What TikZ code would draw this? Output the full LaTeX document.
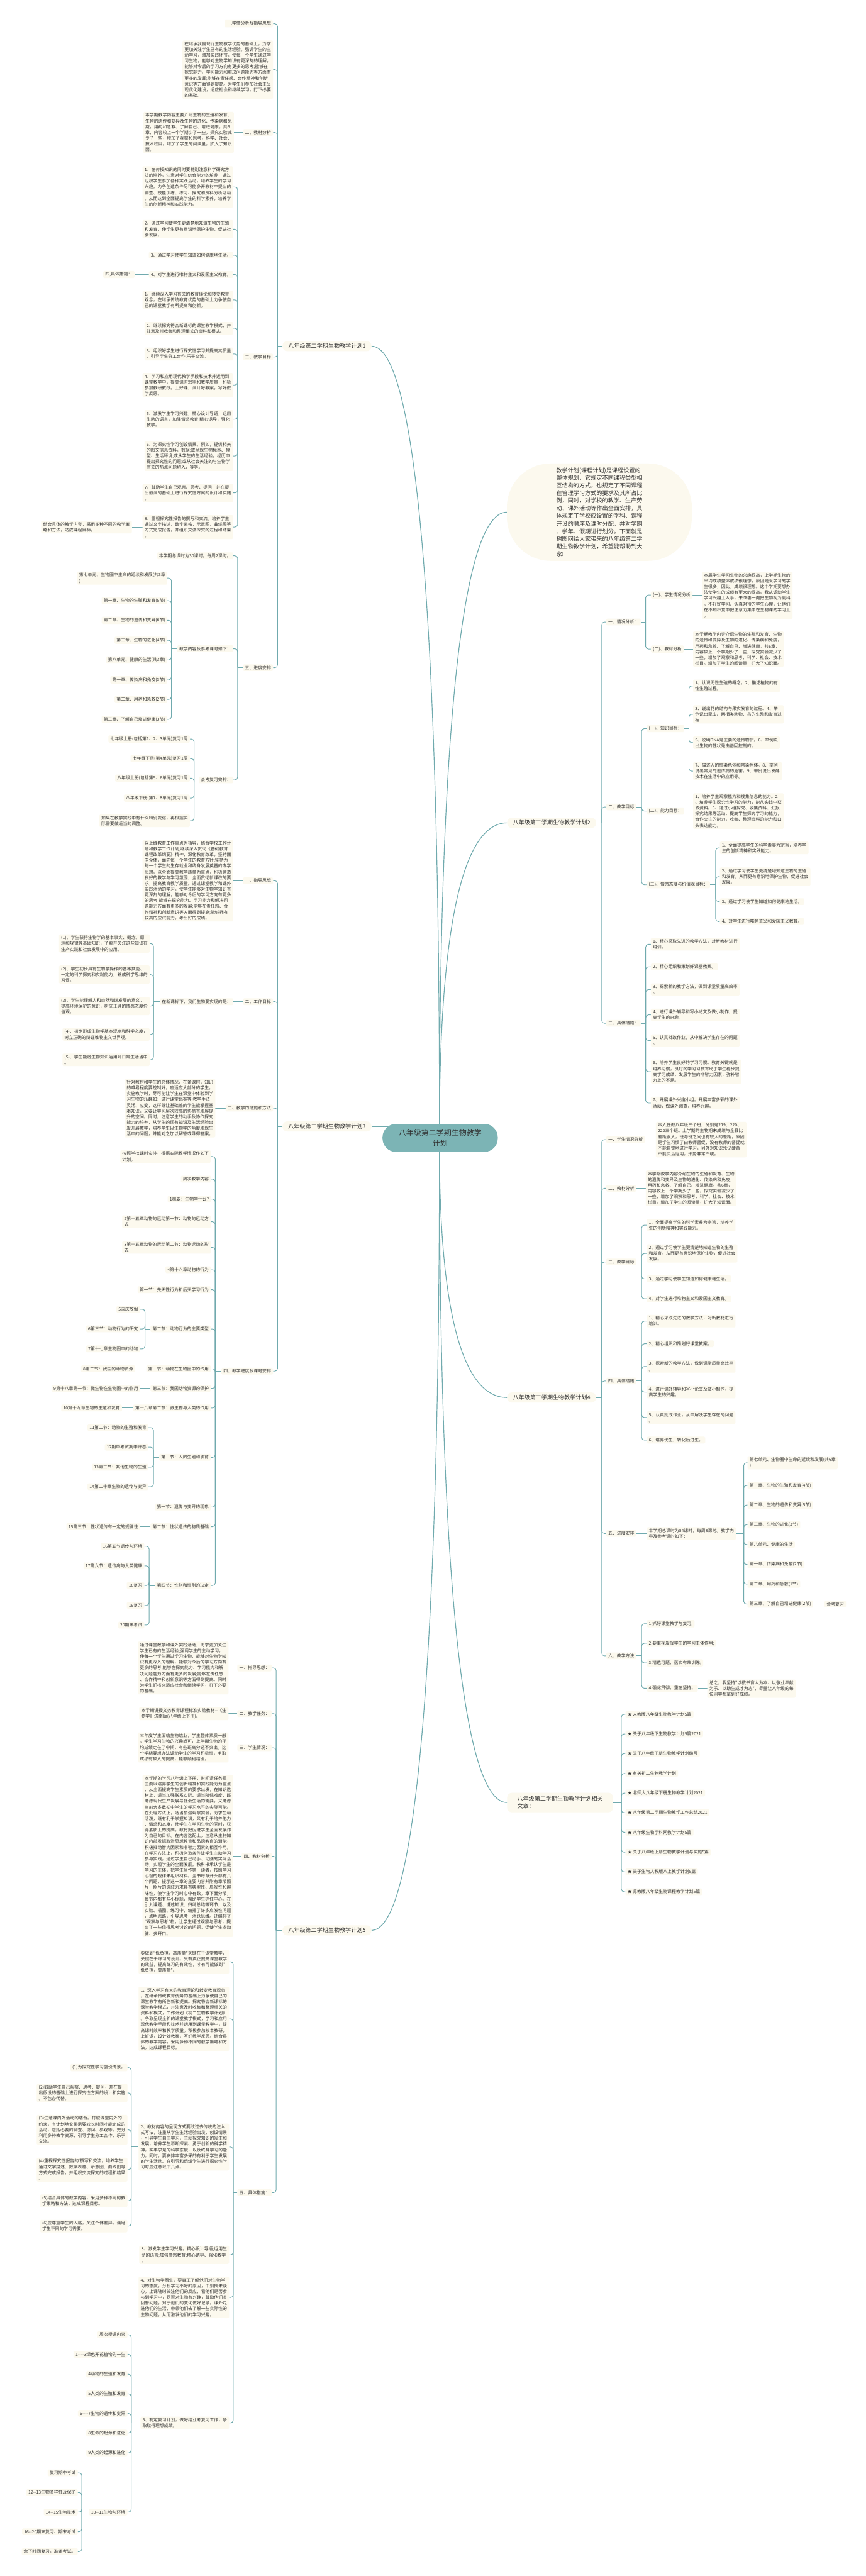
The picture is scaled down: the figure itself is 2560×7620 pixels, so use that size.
\documentclass[tikz,border=0pt]{standalone}
\usepackage{fontspec}
\newfontfamily\cjk{Noto Sans CJK SC}
\usetikzlibrary{backgrounds}
\pgfdeclarelayer{bottom}
\pgfsetlayers{bottom,background,main}
\definecolor{cream}{RGB}{252,249,238}
\definecolor{lc}{RGB}{112,170,174}
\definecolor{ctrfill}{RGB}{124,180,181}
\definecolor{txt}{RGB}{48,48,48}
\tikzset{
 box/.style={font=\cjk\fontsize{12.8}{17}\selectfont, text=txt, fill=cream, rounded corners=3, inner xsep=6, inner ysep=4, align=left},
 L/.style={box, anchor=east},
 R/.style={box, anchor=west},
 major/.style={font=\cjk\fontsize{16.9}{22}\selectfont, text=txt, fill=cream, rounded corners=14, inner xsep=17, inner ysep=7, align=left},
 conn/.style={draw=lc, line width=1.8, rounded corners=8},
 curve/.style={draw=lc, line width=2.2},
}
\newcommand{\Lk}[3]{\draw[conn] (#1.west) -- (#1.west -| #2);
 \foreach \kid in {#3}{\draw[conn] (#1.west -| #2) |- (\kid.east);}}
\newcommand{\Rk}[3]{\draw[conn] (#1.east) -- (#1.east -| #2);
 \foreach \kid in {#3}{\draw[conn] (#1.east -| #2) |- (\kid.west);}}
\newcommand{\Ld}[2]{\draw[conn] (#1.west) -- (#1.west -| #2.east);}
\newcommand{\Rd}[2]{\draw[conn] (#1.east) -- (#1.east -| #2.west);}
\begin{document}
\begin{tikzpicture}[x=1pt,y=-1pt]
\begin{pgfonlayer}{bottom}\fill[white] (0,0) rectangle (2560,7620);\end{pgfonlayer}
\useasboundingbox (0,0) rectangle (2560,7620);

% ===== center =====
\node[fill=ctrfill, rounded corners=40, minimum width=341, minimum height=83, font=\cjk\fontsize{22.3}{32}\selectfont, text=txt, align=center] (ctr) at (1302,3366) {八年级第二学期生物教学\\计划};

% ===== plan 1 =====
\node[major,anchor=east] (p1) at (1099,1024) {八年级第二学期生物教学计划1};
\coordinate (s1) at (821,0);
\node[L] (a1) at (808,70) {一,学情分析及指导思想};
\node[L] (a2) at (808,206) {在继承我国现行生物教学优势的基础上，力求\\更加关注学生已有的生活经验。强调学生的主\\动学习，增加实践环节，使每一个学生通过学\\习生物，能够对生物学知识有更深刻的理解，\\能够对今后的学习方向有更多的思考;能够在\\探究能力、学习能力和解决问题能力等方面有\\更多的发展;能够在责任感、合作精神和创新\\意识等方面得到提高。为学生们参加社会主义\\现代化建设，适应社会和继续学习，打下必要\\的基础。};
\node[L] (a3) at (808,392) {二、教材分析};
\node[L] (a3a) at (692,392) {本学期教学内容主要介绍生物的生殖和发育、\\生物的遗传和变异及生物的进化、传染病和免\\疫，用药和急救、了解自己、增进健康。共6\\章，内容较上一个学期少了一些，探究实验减\\少了一些，增加了观察和思考，科学、社会、\\技术栏目。增加了学生的阅读量，扩大了知识\\面。};
\node[L] (a4) at (808,1056) {三、教学目标};
\coordinate (s1d) at (703,0);
\node[L] (d1) at (690,553) {1、在传授知识的同时要特别注意科学研究方\\法的培养，注意对学生综合能力的培养，通过\\组织学生参加各种实践活动，培养学生的学习\\兴趣。力争创造条件尽可能多开教材中提出的\\调查、技能训练、练习、探究和资料分析活动\\。从而达到全面提高学生的科学素养，培养学\\生的创新精神和实践能力。};
\node[L] (d2) at (690,678) {2、通过学习使学生更清楚地知道生物的生殖\\和发育，使学生更有意识地保护生物，促进社\\会发展。};
\node[L] (d3) at (690,755) {3、通过学习使学生知道如何健康地生活。};
\node[L] (d4) at (690,812) {4、对学生进行唯物主义和爱国主义教育。};
\node[L] (d4a) at (398,812) {四,具体措施：};
\node[L] (d5) at (690,887) {1、继续深入学习有关的教育理论和转变教育\\观念，在继承传统教育优势的基础上力争使自\\己的课堂教学有所提高和创新。};
\node[L] (d6) at (690,971) {2、继续探究符合新课标的课堂教学模式，并\\注意及时收集和整理相关的资料和模式。};
\node[L] (d7) at (690,1047) {3、组织好学生进行探究性学习并提高其质量\\，引导学生分工合作,乐于交流。};
\node[L] (d8) at (690,1139) {4、学习和应用现代教学手段和技术并运用到\\课堂教学中，提高课时效率和教学质量，积极\\参加教研教改。上好课，设计好教案，写好教\\学反思。};
\node[L] (d9) at (690,1240) {5、激发学生学习兴趣，精心设计导语，运用\\生动的语言，加强情感教育;精心诱导，强化\\教学。};
\node[L] (d10) at (690,1349) {6、为探究性学习创设情景。例如，提供相关\\的图文信息资料，数据;或呈现生物标本、模\\型、生活环境;或从学生的生活经验，经历中\\提出探究性的问题;或从社会关注的与生物学\\有关的热点问题切入，等等。};
\node[L] (d11) at (690,1458) {7、鼓励学生自己观察、思考、提问，并在提\\出假设的基础上进行探究性方案的设计和实施\\。};
\node[L] (d12) at (690,1559) {8、重视探究性报告的撰写和交流。培养学生\\通过文字描述，数字表格，示意图，曲线图等\\方式完成报告，并组织交流探究的过程和结果\\。};
\node[L] (d12a) at (390,1559) {结合具体的教学内容，采用多种不同的教学策\\略和方法，达成课程目标。};
\node[L] (a5) at (808,1975) {五、进度安排};
\node[L] (e1) at (690,1644) {本学期总课时为30课时，每周2课时。};
\node[L] (e2) at (690,1919) {教学内容及参考课时如下：};
\coordinate (s1e) at (507,0);
\node[L] (f1) at (495,1710) {第七单元、生物圈中生命的延续和发展(共3章\\)};
\node[L] (f2) at (495,1777) {第一章、生物的生殖和发育(5节)};
\node[L] (f3) at (495,1835) {第二章、生物的遗传和变异(6节)};
\node[L] (f4) at (495,1894) {第三章、生物的进化(4节)};
\node[L] (f5) at (495,1952) {第八单元、健康的生活(共3章)};
\node[L] (f6) at (495,2011) {第一章、传染病和免疫(3节)};
\node[L] (f7) at (495,2069) {第二章、用药和急救(2节)};
\node[L] (f8) at (495,2128) {第三章、了解自己增进健康(3节)};
\node[L] (e3) at (690,2307) {会考复习安排：};
\coordinate (s1g) at (574,0);
\node[L] (g1) at (562,2186) {七年级上册(包括第1、2、3单元)复习1周};
\node[L] (g2) at (562,2244) {七年级下册(第4单元)复习1周};
\node[L] (g3) at (562,2302) {八年级上册(包括第5、6单元)复习1周};
\node[L] (g4) at (562,2361) {八年级下册(第7、8单元)复习1周};
\node[L] (g5) at (562,2428) {如果在教学实践中有什么特别变化，再根据实\\际需要做适当的调整。};

% ===== plan 3 =====
\node[major,anchor=east] (p3) at (1099,3332) {八年级第二学期生物教学计划3};
\coordinate (s3) at (821,0);
\node[L] (h1) at (808,2605) {一、指导思想};
\node[L] (h1a) at (690,2605) {以上级教育工作重点为指导，结合学校工作计\\划和教学工作计划,继续深入贯彻《基础教育\\课程改革纲要》精神，深化教育改革，坚持面\\向全体，面向每一个学生的教育方针;坚持为\\每一个学生的生存就业和终身发展奠基的办学\\思想。以全面提高教学质量为重点，积极营造\\良好的教学与学习氛围，全面贯彻新课改的要\\求，提高教育教学质量。通过课堂教学和课外\\实践活动的学习，使学生能够对生物学知识有\\更深刻的理解，能够对今后的学习方向有更多\\的思考;能够在探究能力、学习能力和解决问\\题能力方面有更多的发展;能够在责任感、合\\作精神和创新意识等方面得到提高;能够拥有\\较高的应试能力，考出好的成绩。};
\node[L] (h2) at (808,2963) {二、工作目标};
\node[L] (h2a) at (690,2963) {在新课标下，我们生物要实现的是：};
\coordinate (s3i) at (454,0);
\node[L] (i1) at (443,2791) {(1)、学生获得生物学的基本事实、概念、原\\理和规律等基础知识，了解并关注这些知识在\\生产实践和社会发展中的应用。};
\node[L] (i2) at (443,2883) {(2)、学生初步具有生物学操作的基本技能、\\一定的科学探究和实践能力，养成科学思维的\\习惯。};
\node[L] (i3) at (443,2976) {(3)、学生能理解人和自然和谐发展的意义，\\提高环境保护的意识，树立正确的情感态度价\\值观。};
\node[L] (i4) at (443,3060) {(4)、初步形成生物学基本观点和科学态度，\\树立正确的辩证唯物主义世界观。};
\node[L] (i5) at (443,3135) {(5)、学生能将生物知识运用到日常生活当中\\。};
\node[L] (h3) at (808,3278) {三、教学的措施和方法};
\node[L] (h3a) at (637,3278) {针对教材和学生的总体情况，在备课时，知识\\的难易程度要控制好，应适应大部分的学生。\\实施教学时，尽可能让学生在课堂中体验到学\\习生物的乐趣如：进行课堂比赛等;教学手法\\灵活、应变，这样既让基础差的学生能掌握基\\本知识，又要让学习层次较高的协商有发展提\\升的空间。同时，注意学生的动手及协作探究\\能力的培养，从学生的现有知识及生活经验出\\发开展教学，培养学生以生物学的角度发现生\\活中的问题，并能对之加以解答或寻得答案。};
\node[L] (h4) at (808,4056) {四、教学进度及课时安排};
\coordinate (s3j) at (637,0);
\node[L] (j1) at (624,3421) {按照学校课时安排，根据实际教学情况作如下\\计划。};
\node[L] (j2) at (624,3488) {周次教学内容};
\node[L] (j3) at (624,3547) {1概要：生物学什么?};
\node[L] (j4) at (624,3614) {2第十五章动物的运动第一节：动物的运动方\\式};
\node[L] (j5) at (624,3690) {3第十五章动物的运动第二节：动物运动的形\\式};
\node[L] (j6) at (624,3756) {4第十六章动物的行为};
\node[L] (j7) at (624,3815) {第一节：先天性行为和后天学习行为};
\node[L] (j8) at (624,3931) {第二节：动物行为的主要类型};
\coordinate (s3k) at (429,0);
\node[L] (k1) at (415,3873) {5国庆放假};
\node[L] (k2) at (415,3931) {6第三节：动物行为的研究};
\node[L] (k3) at (415,3990) {7第十七章生物圈中的动物};
\node[L] (j9) at (624,4049) {第一节：动物在生物圈中的作用};
\node[L] (k4) at (400,4049) {8第二节：我国的动物资源};
\node[L] (j10) at (624,4107) {第三节：我国动物资源的保护};
\node[L] (k5) at (415,4107) {9第十八章第一节：微生物在生物圈中的作用};
\node[L] (j11) at (624,4165) {第十八章第二节：微生物与人类的作用};
\node[L] (k6) at (361,4165) {10第十九章生物的生殖和发育};
\node[L] (j12) at (624,4311) {第一节：人的生殖和发育};
\coordinate (s3l) at (454,0);
\node[L] (k7) at (439,4223) {11第二节：动物的生殖和发育};
\node[L] (k8) at (439,4281) {12期中考试期中评卷};
\node[L] (k9) at (439,4340) {13第三节：其他生物的生殖};
\node[L] (k10) at (439,4398) {14第二十章生物的遗传与变异};
\node[L] (j13) at (624,4458) {第一节：遗传与变异的现象};
\node[L] (j14) at (624,4516) {第二节：性状遗传的物质基础};
\node[L] (k11) at (415,4516) {15第三节：性状遗传有一定的规律性};
\node[L] (j15) at (624,4690) {第四节：性别和性别的决定};
\coordinate (s3m) at (441,0);
\node[L] (k12) at (427,4574) {16第五节遗传与环境};
\node[L] (k13) at (427,4632) {17第六节：遗传病与人类健康};
\node[L] (k14) at (427,4690) {18复习};
\node[L] (k15) at (427,4749) {19复习};
\node[L] (k16) at (427,4807) {20期末考试};

% ===== plan 5 =====
\node[major,anchor=east] (p5) at (1099,5710) {八年级第二学期生物教学计划5};
\coordinate (s5) at (817,0);
\node[L] (m1) at (804,4934) {一、指导思想：};
\node[L] (m1a) at (676,4934) {通过课堂教学和课外实践活动，力求更加关注\\学生已有的生活经验;强调学生的主动学习，\\使每一个学生通过学习生物，能够对生物学知\\识有更深入的理解，能够对今后的学习方向有\\更多的思考;能够在探究能力、学习能力和解\\决问题能力方面有更多的发展;能够在责任感\\、合作精神和创新意识等方面得到提高。同时\\为学生们将来适应社会和继续学习，打下必要\\的基础。};
\node[L] (m2) at (804,5069) {二、教学任务：};
\node[L] (m2a) at (676,5069) {本学期讲授义务教育课程标准实验教材--《生\\物学》济南版(八年级上下册)。};
\node[L] (m3) at (804,5170) {三、学生情况：};
\node[L] (m3a) at (676,5169) {本年度学生面临生物结业，学生整体素质一般\\，学生学习生物的兴趣尚可，上学期生物的平\\均成绩走在了中间，有些班高分还不突出。这\\个学期要想办法调动学生的学习积极性，争取\\成绩有较大的提高，能够顺利结业。};
\node[L] (m4) at (804,5491) {四、教材分析};
\node[L] (m4a) at (690,5490) {本学期的学习八年级上下册，时间紧任务重，\\主要以培养学生的创新精神和实践能力为重点\\，从全面提高学生素质的要求出发，在知识选\\材上，适当加强联系实际、适当降低难度，既\\考虑现代生产发展与社会生活的需要，又考虑\\当前大多数初中学生的学习水平的实际可能。\\在处理方法上，适当加强观察实验，力求生动\\活泼，既有利于掌握知识，又有利于培养能力\\、情感和态度，使学生在学习生物的同时，获\\得素质上的提高。教材把促进学生全面发展作\\为自己的目标。在内容选配上，注意从生物知\\识内部发掘政治思想教育和品德教育的潜能，\\积极推动智力因素和非智力因素的相互作用。\\在学习方法上，积极创造条件让学生主动学习\\参与实践，通过学生自己动手、动脑的实际活\\动，实现学生的全面发展。教科书承认学生是\\学习的主体，把学生当作第一读者，按照学习\\心理的规律来组织材料。全书每章开头都有几\\个问题，提示这一章的主要内容并附有章节照\\片，照片的选取力求具有典型性、启发性和趣\\味性，使学生学习时心中有数。章下面分节，\\每节内都有些小标题，帮助学生抓住中心。在\\引入课题、讲述知识、归纳总结等环节，以及\\实验、插图、练习中，编排了许多启发性问题\\，点明思路，引导思考，活跃思维。还编排了\\"观察与思考"栏，让学生通过观察与思考，提\\出了一些值得思考讨论的问题，促使学生多动\\脑、多开口。};
\node[L] (m5) at (804,6486) {五、具体措施：};
\coordinate (s5q) at (690,0);
\node[L] (q1) at (678,5803) {要做到"低负担，高质量"关键在于课堂教学，\\关键在于练习的设计。只有真正提高课堂教学\\的效益，提高练习的有效性，才有可能做到"\\低负担，高质量"。};
\node[L] (q2) at (678,5972) {1、深入学习有关的教育理论和转变教育观念\\，在继承传统教育优势的基础上力争使自己的\\课堂教学有所创新和提高。探究符合新课标的\\课堂教学模式，并注意及时收集和整理相关的\\资料和模式，工作计划《初二生物教学计划》\\。争取呈现全新的课堂教学模式，学习和应用\\现代教学手段和技术并运用到课堂教学中，提\\高课时效率和教学质量。积极参加校本教研，\\上好课，设计好教案，写好教学反思。结合具\\体的教学内容，采用多种不同的教学策略和方\\法，达成课程目标。};
\node[L] (q3) at (678,6351) {2、教材内容的呈现方式要改过去传统的注入\\式写法，注重从学生生活经验出发，创设情景\\，引导学生自主学习，主动探究知识的发生和\\发展，培养学生不断探索、勇于创新的科学精\\神，实事求是的科学态度，以及终身学习的能\\力，同时，要安排丰富多采的有利于学生发展\\的学生活动。在引导和组织学生进行探究性学\\习时应注意以下几点。};
\coordinate (s5r) at (388,0);
\node[L] (r1) at (377,6116) {(1)为探究性学习创设情景。};
\node[L] (r2) at (377,6191) {(2)鼓励学生自己观察、思考、提问，并在提\\出假设的基础上进行探究性方案的设计和实施\\。不包办代替。};
\node[L] (r3) at (377,6300) {(3)注意课内外活动的结合。打破课堂内外的\\约束，有计划地安排需要较长时间才能完成的\\活动，包括必要的调查、访问、参观等，充分\\利用多种教学资源，引导学生分工合作，乐于\\交流。};
\node[L] (r4) at (377,6418) {(4)重视探究性报告的'撰写和交流。培养学生\\通过文字描述、数字表格、示意图、曲线图等\\方式完成报告，并组织交流探究的过程和结果\\。};
\node[L] (r5) at (377,6510) {(5)结合具体的教学内容，采用多种不同的教\\学策略和方法，达成课程目标。};
\node[L] (r6) at (377,6585) {(6)应尊重学生的人格，关注个体差异，满足\\学生不同的学习需要。};
\node[L] (q4) at (678,6670) {3、激发学生学习兴趣。精心设计导语;运用生\\动的语言;加强情感教育;精心诱导、强化教学\\。};
\node[L] (q5) at (678,6796) {4、对生物学困生，要真正了解他们对生物学\\习的态度，分析学习不好的原因，个别找来谈\\心，上课随时关注他们的反应，看他们是否参\\与到学习中，是否对生物有兴趣，鼓励他们多\\回答问题，对于他们的变化做好记录。课外走\\进他们的生活，带领他们去了解一些实际性的\\生物问题，从而激发他们的学习兴趣。};
\node[L] (q6) at (678,7167) {5、制定复习计划，做好结业考复习工作，争\\取取得理想成绩。};
\node[L] (t1) at (377,6906) {周次授课内容};
\node[L] (t2) at (377,6964) {1----3绿色开花植物的一生};
\node[L] (t3) at (377,7023) {4动物的生殖和发育};
\node[L] (t4) at (377,7081) {5人类的生殖和发育};
\node[L] (t5) at (377,7139) {6----7生物的遗传和变异};
\node[L] (t6) at (377,7197) {8生命的起源和进化};
\node[L] (t7) at (377,7256) {9人类的起源和进化};
\node[L] (t8) at (377,7431) {10--11生物与环境};
\coordinate (s5u) at (242,0);
\node[L] (u1) at (230,7315) {复习期中考试};
\node[L] (u2) at (230,7373) {12--13生物多样性及保护};
\node[L] (u3) at (230,7431) {14--15生物技术};
\node[L] (u4) at (230,7489) {16--20期末复习、期末考试};
\node[L] (u5) at (230,7548) {余下时间复习，准备考试。};

% ===== intro =====
\node[fill=cream, rounded corners=130, minimum width=547, minimum height=288, inner sep=0, font=\cjk\fontsize{17}{22.6}\selectfont, text=txt, align=left] (intro) at (1773,1515) {教学计划(课程计划)是课程设置的\\整体规划，它规定不同课程类型相\\互结构的方式，也规定了不同课程\\在管理学习方式的要求及其所占比\\例，同时，对学校的教学、生产劳\\动、课外活动等作出全面安排，具\\体规定了学校应设置的学科、课程\\开设的顺序及课时分配，并对学期\\、学年、假期进行划分。下面就是\\树图网给大家带来的八年级第二学\\期生物教学计划，希望能帮助到大\\家!};

% ===== plan 2 =====
\node[major,anchor=west] (p2) at (1500,2434) {八年级第二学期生物教学计划2};
\coordinate (s2) at (1780,0);
\node[R] (v1) at (1793,1840) {一、情况分析：};
\coordinate (s2v) at (1910,0);
\node[R] (v1a) at (1925,1760) {(一)、学生情况分析};
\node[R] (v1ap) at (2076,1761) {本届学生学习生物的兴趣很高，上学期生物的\\平均成绩整体成绩很理想，原因是爱学习的学\\生很多，因此，成绩很理想。这个学期要想办\\法使学生的成绩有更大的提高。我从调动学生\\学习兴趣上入手，来改善一向把生物视为副科\\，不好好学习、认真对待的学生心理，让他们\\在不知不觉中把注意力集中在生物课的学习上\\。};
\node[R] (v1b) at (1925,1920) {(二)、教材分析};
\node[R] (v1bp) at (2050,1920) {本学期教学内容介绍生物的生殖和发育、生物\\的遗传和变异及生物的进化、传染病和免疫，\\用药和急救、了解自己、增进健康。共6章，\\内容较上一个学期少了一些，探究实验减少了\\一些，增加了观察和思考，科学、社会、技术\\栏目。增加了学生的阅读量，扩大了知识面。};
\node[R] (v2) at (1793,2387) {二、教学目标};
\coordinate (s2w) at (1898,0);
\node[R] (w1) at (1913,2155) {(一)、知识目标：};
\coordinate (s2x) at (2038,0);
\node[R] (x1) at (2050,2029) {1、认识无性生殖的概念。2、描述植物的有\\性生殖过程。};
\node[R] (x2) at (2050,2113) {3、说出花的结构与果实发育的过程。4、举\\例说出昆虫、两栖类动物、鸟的生殖和发育过\\程};
\node[R] (x3) at (2050,2197) {5、说明DNA是主要的遗传物质。6、举例说\\出生物的性状是由基因控制的。};
\node[R] (x4) at (2050,2281) {7、描述人的性染色体和常染色体。8、举例\\说出常见的遗传病的危害。9、举例说出发酵\\技术在生活中的应用等。};
\node[R] (w2) at (1913,2399) {(二)、能力目标：};
\node[R] (w2p) at (2050,2399) {1、培养学生观察能力和搜集信息的能力。2\\、培养学生探究性学习的能力，能从实践中获\\取资料。3、通过小组探究、收集资料、汇报\\探究结果等活动，提高学生探究学习的能力，\\合作交往的能力，收集、整理资料的能力和口\\头表达能力。};
\node[R] (w3) at (1913,2617) {(三)、情感态度与价值观目标：};
\coordinate (s2y) at (2117,0);
\node[R] (y1) at (2129,2508) {1、全面提高学生的科学素养为宗旨，培养学\\生的创新精神和实践能力。};
\node[R] (y2) at (2129,2593) {2、通过学习使学生更清楚地知道生物的生殖\\和发育，从而更有意识地保护生物，促进社会\\发展。};
\node[R] (y3) at (2129,2667) {3、通过学习使学生知道如何健康地生活。};
\node[R] (y4) at (2129,2726) {4、对学生进行唯物主义和爱国主义教育。};
\node[R] (v3) at (1793,3027) {三、具体措施：};
\node[R] (z1) at (1925,2793) {1、精心采取先进的教学方法，对新教材进行\\培训。};
\node[R] (z2) at (1925,2860) {2、精心组织和策划好课堂教案。};
\node[R] (z3) at (1925,2927) {3、探索新的教学方法，做到课堂质量高效率\\。};
\node[R] (z4) at (1925,3002) {4、进行课外辅导和写小论文及做小制作，提\\高学生的兴趣。};
\node[R] (z5) at (1925,3078) {5、认真批改作业，从中解决学生存在的问题\\。};
\node[R] (z6) at (1925,3170) {6、培养学生良好的学习习惯。教育关键就是\\培养习惯，良好的学习习惯有助于学生稳步提\\高学习成绩，发展学生的非智力因素，弥补智\\力上的不足。};
\node[R] (z7) at (1925,3263) {7、开展课外兴趣小组。开展丰富多彩的课外\\活动，做课外调查，培养兴趣。};

% ===== plan 4 =====
\node[major,anchor=west] (p4) at (1500,4134) {八年级第二学期生物教学计划4};
\coordinate (s4) at (1780,0);
\node[R] (aa1) at (1793,3371) {一、学生情况分析};
\node[R] (aa1p) at (1940,3371) {本人任教八年级三个班，分别是219、220、\\222三个班。上学期的生物期末成绩与全县比\\差距很大，班与班之间也有较大的差距，原因\\是学生习惯了由教师督促，没有教师的督促就\\不能自觉地进行学习，另外对知识死记硬背，\\不能灵活运用，形势非常严峻。};
\node[R] (aa2) at (1793,3515) {二、教材分析};
\node[R] (aa2p) at (1910,3515) {本学期教学内容介绍生物的生殖和发育、生物\\的遗传和变异及生物的进化、传染病和免疫，\\用药和急救、了解自己、增进健康。共6章，\\内容较上一个学期少了一些，探究实验减少了\\一些，增加了观察和思考，科学、社会、技术\\栏目。增加了学生的阅读量，扩大了知识面。};
\node[R] (aa3) at (1793,3733) {三、教学目标};
\coordinate (s4b) at (1898,0);
\node[R] (bb1) at (1913,3624) {1、全面提高学生的科学素养为宗旨，培养学\\生的创新精神和实践能力。};
\node[R] (bb2) at (1913,3708) {2、通过学习使学生更清楚地知道生物的生殖\\和发育，从而更有意识地保护生物，促进社会\\发展。};
\node[R] (bb3) at (1913,3783) {3、通过学习使学生知道如何健康地生活。};
\node[R] (bb4) at (1913,3842) {4、对学生进行唯物主义和爱国主义教育。};
\node[R] (aa4) at (1793,4085) {四、具体措施};
\node[R] (cc1) at (1913,3908) {1、精心采取先进的教学方法，对新教材进行\\培训。};
\node[R] (cc2) at (1913,3975) {2、精心组织和策划好课堂教案。};
\node[R] (cc3) at (1913,4042) {3、探索新的教学方法，做到课堂质量高效率\\。};
\node[R] (cc4) at (1913,4118) {4、进行课外辅导和写小论文及做小制作，提\\高学生的兴趣。};
\node[R] (cc5) at (1913,4193) {5、认真批改作业，从中解决学生存在的问题\\。};
\node[R] (cc6) at (1913,4260) {6、培养优生，转化后进生。};
\node[R] (aa5) at (1793,4536) {五、进度安排};
\node[R] (dd) at (1913,4536) {本学期总课时为54课时，每周3课时。教学内\\容及参考课时如下：};
\coordinate (s4e) at (2200,0);
\node[R] (ee1) at (2211,4327) {第七单元、生物圈中生命的延续和发展(共6章\\)};
\node[R] (ee2) at (2211,4394) {第一章、生物的生殖和发育(4节)};
\node[R] (ee3) at (2211,4452) {第二章、生物的遗传和变异(5节)};
\node[R] (ee4) at (2211,4510) {第三章、生物的进化(3节)};
\node[R] (ee5) at (2211,4569) {第八单元、健康的生活};
\node[R] (ee6) at (2211,4628) {第一章、传染病和免疫(2节)};
\node[R] (ee7) at (2211,4686) {第二章、用药和急救(1节)};
\node[R] (ee8) at (2211,4745) {第三章、了解自己增进健康(2节)};
\node[R] (ee8a) at (2439,4745) {会考复习};
\node[R] (aa6) at (1793,4898) {六、教学方法};
\node[R] (ff1) at (1913,4803) {1.抓好课堂教学与复习;};
\node[R] (ff2) at (1913,4861) {2.要重视发挥学生的学习主体作用;};
\node[R] (ff3) at (1913,4919) {3.精选习题，落实有效训练;};
\node[R] (ff4) at (1913,4994) {4.强化贯彻，重在坚持。};
\node[R] (ff4a) at (2092,4995) {总之，我坚持"以教书育人为本、以敬业奉献\\为乐、以助生成才为志"，尽量让八年级的每\\位同学都拿到好成绩。};

% ===== related =====
\node[major,anchor=west,inner xsep=30,inner ysep=10] (p6) at (1500,5332) {八年级第二学期生物教学计划相关\\文章：};
\coordinate (s6) at (1838,0);
\node[R] (gg1) at (1850,5071) {★ 人教版八年级生物教学计划5篇};
\node[R] (gg2) at (1850,5129) {★ 关于八年级下生物教学计划5篇2021};
\node[R] (gg3) at (1850,5187) {★ 关于八年级下册生物教学计划编写};
\node[R] (gg4) at (1850,5246) {★ 有关初二生物教学计划};
\node[R] (gg5) at (1850,5304) {★ 北师大八年级下册生物教学计划2021};
\node[R] (gg6) at (1850,5362) {★ 八年级第二学期生物教学工作总结2021};
\node[R] (gg7) at (1850,5420) {★ 八年级生物学科网教学计划5篇};
\node[R] (gg8) at (1850,5479) {★ 关于八年级上册生物教学计划与实施5篇};
\node[R] (gg9) at (1850,5537) {★ 关于生物人教版八上教学计划5篇};
\node[R] (gg10) at (1850,5596) {★ 苏教版八年级生物课程教学计划5篇};

% ===== connectors =====
\begin{scope}[on background layer]
\draw[curve] (1300,3340) .. controls (1300,2059) and (1250,1024) .. (p1.east);
\draw[curve] (1300,3340) .. controls (1300,2330) and (1350,1515) .. (intro.west);
\draw[curve] (1300,3340) .. controls (1300,2835) and (1350,2434) .. (p2.west);
\draw[curve] (1300,3395) .. controls (1300,3807) and (1350,4134) .. (p4.west);
\draw[curve] (1300,3395) .. controls (1300,4466) and (1350,5332) .. (p6.west);
\draw[curve] (1300,3395) .. controls (1300,4674) and (1250,5710) .. (p5.east);
\draw[curve] (p3.east) -- (p3.east -| ctr.center);

\Lk{p1}{s1}{a1,a2,a3,a4,a5}
\Ld{a3}{a3a}
\Lk{a4}{s1d}{d1,d2,d3,d4,d5,d6,d7,d8,d9,d10,d11,d12}
\Ld{d4}{d4a}
\Ld{d12}{d12a}
\Lk{a5}{s1d}{e1,e2,e3}
\Lk{e2}{s1e}{f1,f2,f3,f4,f5,f6,f7,f8}
\Lk{e3}{s1g}{g1,g2,g3,g4,g5}

\Lk{p3}{s3}{h1,h2,h3,h4}
\Ld{h1}{h1a}
\Ld{h2}{h2a}
\Ld{h3}{h3a}
\Lk{h2a}{s3i}{i1,i2,i3,i4,i5}
\Lk{h4}{s3j}{j1,j2,j3,j4,j5,j6,j7,j8,j9,j10,j11,j12,j13,j14,j15}
\Lk{j8}{s3k}{k1,k2,k3}
\Ld{j9}{k4}
\Ld{j10}{k5}
\Ld{j11}{k6}
\Lk{j12}{s3l}{k7,k8,k9,k10}
\Ld{j14}{k11}
\Lk{j15}{s3m}{k12,k13,k14,k15,k16}

\Lk{p5}{s5}{m1,m2,m3,m4,m5}
\Ld{m1}{m1a}
\Ld{m2}{m2a}
\Ld{m3}{m3a}
\Ld{m4}{m4a}
\Lk{m5}{s5q}{q1,q2,q3,q4,q5,q6}
\Lk{q3}{s5r}{r1,r2,r3,r4,r5,r6}
\Lk{q6}{s5r}{t1,t2,t3,t4,t5,t6,t7,t8}
\Lk{t8}{s5u}{u1,u2,u3,u4,u5}

\Rk{p2}{s2}{v1,v2,v3}
\Rk{v1}{s2v}{v1a,v1b}
\Rd{v1a}{v1ap}
\Rd{v1b}{v1bp}
\Rk{v2}{s2w}{w1,w2,w3}
\Rk{w1}{s2x}{x1,x2,x3,x4}
\Rd{w2}{w2p}
\Rk{w3}{s2y}{y1,y2,y3,y4}
\Rk{v3}{s2v}{z1,z2,z3,z4,z5,z6,z7}

\Rk{p4}{s4}{aa1,aa2,aa3,aa4,aa5,aa6}
\Rd{aa1}{aa1p}
\Rd{aa2}{aa2p}
\Rk{aa3}{s4b}{bb1,bb2,bb3,bb4}
\Rk{aa4}{s4b}{cc1,cc2,cc3,cc4,cc5,cc6}
\Rd{aa5}{dd}
\Rk{dd}{s4e}{ee1,ee2,ee3,ee4,ee5,ee6,ee7,ee8}
\Rd{ee8}{ee8a}
\Rk{aa6}{s4b}{ff1,ff2,ff3,ff4}
\Rd{ff4}{ff4a}

\Rk{p6}{s6}{gg1,gg2,gg3,gg4,gg5,gg6,gg7,gg8,gg9,gg10}
\end{scope}
\end{tikzpicture}
\end{document}
